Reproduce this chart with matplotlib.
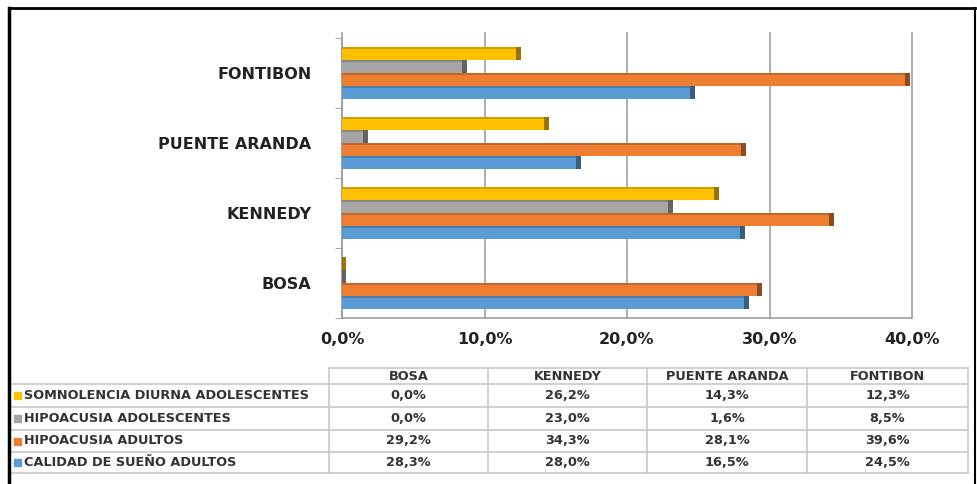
import numpy as np
import matplotlib
matplotlib.use('Agg')
import matplotlib.pyplot as plt
from matplotlib.patches import Rectangle
from matplotlib.lines import Line2D
from matplotlib.colors import to_rgb

# ---------------------------------------------------------------
#   Data
# ---------------------------------------------------------------
localidades = ['BOSA', 'KENNEDY', 'PUENTE ARANDA', 'FONTIBON']

series = ['CALIDAD DE SUEÑO ADULTOS', 'HIPOACUSIA ADULTOS',
          'HIPOACUSIA ADOLESCENTES', 'SOMNOLENCIA DIURNA ADOLESCENTES']

calidad_sueno_adultos = [28.3, 28.0, 16.5, 24.5]
hipoacusia_adultos = [29.2, 34.3, 28.1, 39.6]
hipoacusia_adolescentes = [0.0, 23.0, 1.6, 8.5]
somnolencia_adolescentes = [0.0, 26.2, 14.3, 12.3]

x_ticks = [0, 10, 20, 30, 40]

colores = ['#5B9BD5', '#ED7D31', '#A5A5A5', '#FFC000']
valores = [calidad_sueno_adultos, hipoacusia_adultos, hipoacusia_adolescentes, somnolencia_adolescentes]


def darker(c, f=0.6):
    r, g, b = to_rgb(c)
    return (r * f, g * f, b * f)


def pct(v):
    return ('%.1f%%' % v).replace('.', ',')


# ---------------------------------------------------------------
#   Figure
# ---------------------------------------------------------------
W, H = 977, 484
fig = plt.figure(figsize=(W / 100, H / 100), dpi=100)
fig.patch.set_facecolor('white')

ax = fig.add_axes([342 / W, 1 - 318 / H, 570 / W, 280 / H])

y = np.arange(len(localidades))
bar_h = 0.186
offsets = (np.arange(4) - 1.5) * bar_h

for i in range(4):
    ax.barh(y + offsets[i], valores[i], height=bar_h, color=colores[i], zorder=3)
    for j in range(len(localidades)):
        v = valores[i][j]
        y0 = y[j] + offsets[i] - bar_h / 2
        # top face and right cap for a 3D look
        ax.add_patch(Rectangle((0, y0 + bar_h * 0.86), v, bar_h * 0.14,
                               color=darker(colores[i], 0.82), zorder=4, lw=0))
        ax.add_patch(Rectangle((v - 0.1, y0), 0.35, bar_h,
                               color=darker(colores[i], 0.6), zorder=4, lw=0))

ax.set_xlim(0, 40)
ax.set_ylim(-0.5, 3.5)
ax.set_xticks(x_ticks)
ax.set_xticklabels([pct(t) for t in x_ticks], fontsize=11.5, fontweight='bold',
                   color='#222222', family='DejaVu Sans')
ax.set_yticks(y)
ax.set_yticklabels(localidades, fontsize=11.5, fontweight='bold',
                   color='#222222', family='DejaVu Sans')
ax.tick_params(axis='y', length=0, pad=22)
ax.tick_params(axis='x', length=0, pad=10)
ax.set_yticks(np.arange(-0.5, 4.0, 1.0), minor=True)
ax.tick_params(axis='y', which='minor', length=5, color='#999999')

for t in x_ticks:
    ax.plot([t, t], [-0.5, 3.57], color='#a0a0a0', lw=1.2, zorder=1, clip_on=False)
for s in ['top', 'right']:
    ax.spines[s].set_visible(False)
ax.spines['left'].set_color('#a0a0a0')
ax.spines['bottom'].set_color('#a0a0a0')
ax.spines['left'].set_linewidth(1.2)
ax.spines['bottom'].set_linewidth(1.2)

# ---------------------------------------------------------------
#   Data table
# ---------------------------------------------------------------
col_edges = [10, 329, 488, 647, 807, 968]
row_edges = [368, 384, 407, 430, 452, 473]
gc = '#c8c8c8'
tfont = 'DejaVu Sans'


def fx(px):
    return px / W


def fy(py):
    return 1 - py / H


# horizontal lines
for k, ry in enumerate(row_edges):
    x0 = col_edges[1] if k == 0 else col_edges[0]
    fig.add_artist(Line2D([fx(x0), fx(col_edges[-1])], [fy(ry), fy(ry)], color=gc, lw=1.2))
# vertical lines
for k, cx in enumerate(col_edges):
    y0 = row_edges[1] if k == 0 else row_edges[0]
    fig.add_artist(Line2D([fx(cx), fx(cx)], [fy(y0), fy(row_edges[-1])], color=gc, lw=1.2))

for j, loc in enumerate(localidades):
    cx = (col_edges[j + 1] + col_edges[j + 2]) / 2
    fig.text(fx(cx), fy((row_edges[0] + row_edges[1]) / 2), loc, ha='center', va='center',
             fontsize=9.3, fontweight='bold', color='#333333', family=tfont)

for r in range(4):
    i = 3 - r
    cy = (row_edges[r + 1] + row_edges[r + 2]) / 2
    fig.add_artist(Rectangle((fx(14), fy(cy) - 3.5 / H), 7 / W, 7 / H,
                             color=colores[i], transform=fig.transFigure))
    fig.text(fx(24), fy(cy), series[i], ha='left', va='center',
             fontsize=9.3, fontweight='bold', color='#333333', family=tfont)
    for j in range(len(localidades)):
        cx = (col_edges[j + 1] + col_edges[j + 2]) / 2
        fig.text(fx(cx), fy(cy), pct(valores[i][j]), ha='center', va='center',
                 fontsize=9.3, fontweight='bold', color='#333333', family=tfont)

# outer frame
fig.add_artist(Line2D([fx(9), fx(975)], [fy(8), fy(8)], color='black', lw=2))
fig.add_artist(Line2D([fx(9), fx(9)], [fy(8), 0], color='black', lw=2.5))
fig.add_artist(Line2D([fx(975), fx(975)], [fy(8), 0], color='black', lw=1.5))

fig.savefig('out.png', dpi=100)
